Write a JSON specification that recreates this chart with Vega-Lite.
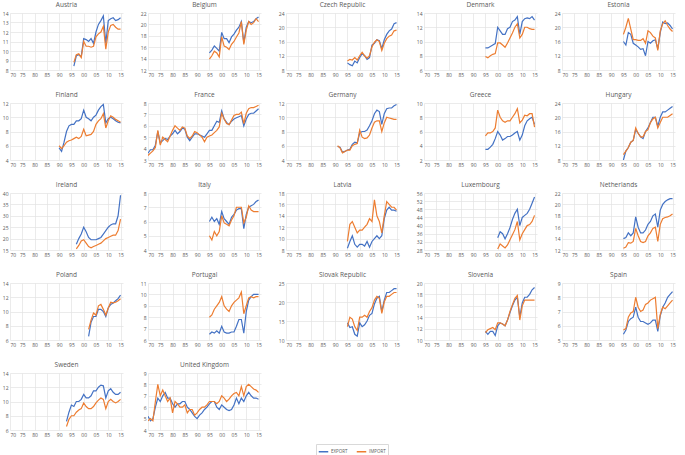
{
"$schema": "https://vega.github.io/schema/vega-lite/v6.json",
"padding": {"left": 2, "top": 1, "right": 2, "bottom": 2},
"datasets": {"d": [
{"c":"Austria","t":1996,"EXPORT":8.4,"IMPORT":8.8},{"c":"Austria","t":1997,"EXPORT":9.5,"IMPORT":9.6},{"c":"Austria","t":1998,"EXPORT":9.6,"IMPORT":9.7},{"c":"Austria","t":1999,"EXPORT":9.4,"IMPORT":9.3},{"c":"Austria","t":2000,"EXPORT":11.3,"IMPORT":11.0},{"c":"Austria","t":2001,"EXPORT":11.2,"IMPORT":10.5},{"c":"Austria","t":2002,"EXPORT":11.0,"IMPORT":10.5},{"c":"Austria","t":2003,"EXPORT":11.3,"IMPORT":10.4},{"c":"Austria","t":2004,"EXPORT":10.8,"IMPORT":10.5},{"c":"Austria","t":2005,"EXPORT":12.0,"IMPORT":11.5},{"c":"Austria","t":2006,"EXPORT":12.8,"IMPORT":11.8},{"c":"Austria","t":2007,"EXPORT":13.2,"IMPORT":12.0},{"c":"Austria","t":2008,"EXPORT":13.7,"IMPORT":12.6},{"c":"Austria","t":2009,"EXPORT":10.8,"IMPORT":10.2},{"c":"Austria","t":2010,"EXPORT":13.2,"IMPORT":12.0},{"c":"Austria","t":2011,"EXPORT":13.4,"IMPORT":12.7},{"c":"Austria","t":2012,"EXPORT":13.5,"IMPORT":12.8},{"c":"Austria","t":2013,"EXPORT":13.2,"IMPORT":12.5},{"c":"Austria","t":2014,"EXPORT":13.3,"IMPORT":12.3},{"c":"Austria","t":2015,"EXPORT":13.5,"IMPORT":12.3},
{"c":"Belgium","t":1995,"EXPORT":15.0,"IMPORT":13.9},{"c":"Belgium","t":1996,"EXPORT":15.5,"IMPORT":14.5},{"c":"Belgium","t":1997,"EXPORT":16.2,"IMPORT":15.3},{"c":"Belgium","t":1998,"EXPORT":15.8,"IMPORT":15.0},{"c":"Belgium","t":1999,"EXPORT":15.3,"IMPORT":14.3},{"c":"Belgium","t":2000,"EXPORT":18.6,"IMPORT":17.8},{"c":"Belgium","t":2001,"EXPORT":17.5,"IMPORT":16.2},{"c":"Belgium","t":2002,"EXPORT":17.5,"IMPORT":16.0},{"c":"Belgium","t":2003,"EXPORT":16.8,"IMPORT":15.6},{"c":"Belgium","t":2004,"EXPORT":17.8,"IMPORT":16.5},{"c":"Belgium","t":2005,"EXPORT":18.3,"IMPORT":17.0},{"c":"Belgium","t":2006,"EXPORT":19.0,"IMPORT":17.8},{"c":"Belgium","t":2007,"EXPORT":19.5,"IMPORT":18.5},{"c":"Belgium","t":2008,"EXPORT":20.5,"IMPORT":20.5},{"c":"Belgium","t":2009,"EXPORT":16.8,"IMPORT":16.5},{"c":"Belgium","t":2010,"EXPORT":19.5,"IMPORT":19.0},{"c":"Belgium","t":2011,"EXPORT":20.5,"IMPORT":20.5},{"c":"Belgium","t":2012,"EXPORT":20.3,"IMPORT":20.0},{"c":"Belgium","t":2013,"EXPORT":20.5,"IMPORT":20.3},{"c":"Belgium","t":2014,"EXPORT":21.0,"IMPORT":21.0},{"c":"Belgium","t":2015,"EXPORT":21.3,"IMPORT":20.5},
{"c":"Czech Republic","t":1995,"EXPORT":10.0,"IMPORT":10.5},{"c":"Czech Republic","t":1996,"EXPORT":9.5,"IMPORT":11.0},{"c":"Czech Republic","t":1997,"EXPORT":9.2,"IMPORT":10.8},{"c":"Czech Republic","t":1998,"EXPORT":10.5,"IMPORT":11.5},{"c":"Czech Republic","t":1999,"EXPORT":10.0,"IMPORT":10.8},{"c":"Czech Republic","t":2000,"EXPORT":11.5,"IMPORT":12.0},{"c":"Czech Republic","t":2001,"EXPORT":12.6,"IMPORT":13.0},{"c":"Czech Republic","t":2002,"EXPORT":12.0,"IMPORT":12.0},{"c":"Czech Republic","t":2003,"EXPORT":11.0,"IMPORT":11.3},{"c":"Czech Republic","t":2004,"EXPORT":11.5,"IMPORT":12.0},{"c":"Czech Republic","t":2005,"EXPORT":15.0,"IMPORT":14.5},{"c":"Czech Republic","t":2006,"EXPORT":15.5,"IMPORT":15.8},{"c":"Czech Republic","t":2007,"EXPORT":16.5,"IMPORT":16.5},{"c":"Czech Republic","t":2008,"EXPORT":16.2,"IMPORT":16.0},{"c":"Czech Republic","t":2009,"EXPORT":14.0,"IMPORT":13.5},{"c":"Czech Republic","t":2010,"EXPORT":16.5,"IMPORT":15.5},{"c":"Czech Republic","t":2011,"EXPORT":18.0,"IMPORT":16.8},{"c":"Czech Republic","t":2012,"EXPORT":19.0,"IMPORT":17.5},{"c":"Czech Republic","t":2013,"EXPORT":19.5,"IMPORT":17.8},{"c":"Czech Republic","t":2014,"EXPORT":21.0,"IMPORT":19.0},{"c":"Czech Republic","t":2015,"EXPORT":21.3,"IMPORT":19.2},
{"c":"Denmark","t":1995,"EXPORT":9.1,"IMPORT":7.9},{"c":"Denmark","t":1996,"EXPORT":9.1,"IMPORT":7.7},{"c":"Denmark","t":1997,"EXPORT":9.3,"IMPORT":8.0},{"c":"Denmark","t":1998,"EXPORT":9.5,"IMPORT":8.2},{"c":"Denmark","t":1999,"EXPORT":9.7,"IMPORT":8.3},{"c":"Denmark","t":2000,"EXPORT":12.0,"IMPORT":9.8},{"c":"Denmark","t":2001,"EXPORT":11.5,"IMPORT":9.8},{"c":"Denmark","t":2002,"EXPORT":11.0,"IMPORT":9.5},{"c":"Denmark","t":2003,"EXPORT":11.0,"IMPORT":9.2},{"c":"Denmark","t":2004,"EXPORT":11.8,"IMPORT":9.8},{"c":"Denmark","t":2005,"EXPORT":12.0,"IMPORT":10.5},{"c":"Denmark","t":2006,"EXPORT":12.8,"IMPORT":11.2},{"c":"Denmark","t":2007,"EXPORT":13.0,"IMPORT":12.0},{"c":"Denmark","t":2008,"EXPORT":13.5,"IMPORT":12.5},{"c":"Denmark","t":2009,"EXPORT":11.0,"IMPORT":10.5},{"c":"Denmark","t":2010,"EXPORT":12.8,"IMPORT":11.0},{"c":"Denmark","t":2011,"EXPORT":13.2,"IMPORT":12.0},{"c":"Denmark","t":2012,"EXPORT":13.3,"IMPORT":12.0},{"c":"Denmark","t":2013,"EXPORT":13.2,"IMPORT":11.8},{"c":"Denmark","t":2014,"EXPORT":13.5,"IMPORT":11.7},{"c":"Denmark","t":2015,"EXPORT":13.0,"IMPORT":11.7},
{"c":"Estonia","t":1995,"EXPORT":16.0,"IMPORT":18.0},{"c":"Estonia","t":1996,"EXPORT":15.0,"IMPORT":20.0},{"c":"Estonia","t":1997,"EXPORT":18.5,"IMPORT":22.5},{"c":"Estonia","t":1998,"EXPORT":18.0,"IMPORT":19.5},{"c":"Estonia","t":1999,"EXPORT":15.5,"IMPORT":16.5},{"c":"Estonia","t":2000,"EXPORT":15.0,"IMPORT":16.5},{"c":"Estonia","t":2001,"EXPORT":14.5,"IMPORT":16.3},{"c":"Estonia","t":2002,"EXPORT":13.8,"IMPORT":16.3},{"c":"Estonia","t":2003,"EXPORT":14.0,"IMPORT":16.8},{"c":"Estonia","t":2004,"EXPORT":12.0,"IMPORT":15.5},{"c":"Estonia","t":2005,"EXPORT":16.0,"IMPORT":19.0},{"c":"Estonia","t":2006,"EXPORT":15.5,"IMPORT":18.5},{"c":"Estonia","t":2007,"EXPORT":16.2,"IMPORT":17.5},{"c":"Estonia","t":2008,"EXPORT":16.5,"IMPORT":17.0},{"c":"Estonia","t":2009,"EXPORT":14.0,"IMPORT":13.5},{"c":"Estonia","t":2010,"EXPORT":18.5,"IMPORT":19.0},{"c":"Estonia","t":2011,"EXPORT":21.5,"IMPORT":21.0},{"c":"Estonia","t":2012,"EXPORT":21.0,"IMPORT":21.8},{"c":"Estonia","t":2013,"EXPORT":21.2,"IMPORT":20.5},{"c":"Estonia","t":2014,"EXPORT":20.5,"IMPORT":19.5},{"c":"Estonia","t":2015,"EXPORT":19.5,"IMPORT":18.8},
{"c":"Finland","t":1990,"EXPORT":5.7,"IMPORT":6.0},{"c":"Finland","t":1991,"EXPORT":5.2,"IMPORT":5.6},{"c":"Finland","t":1992,"EXPORT":6.5,"IMPORT":6.0},{"c":"Finland","t":1993,"EXPORT":8.0,"IMPORT":6.5},{"c":"Finland","t":1994,"EXPORT":8.8,"IMPORT":6.7},{"c":"Finland","t":1995,"EXPORT":9.0,"IMPORT":6.8},{"c":"Finland","t":1996,"EXPORT":9.0,"IMPORT":7.0},{"c":"Finland","t":1997,"EXPORT":9.5,"IMPORT":7.2},{"c":"Finland","t":1998,"EXPORT":9.5,"IMPORT":7.0},{"c":"Finland","t":1999,"EXPORT":9.8,"IMPORT":7.3},{"c":"Finland","t":2000,"EXPORT":11.0,"IMPORT":8.3},{"c":"Finland","t":2001,"EXPORT":10.0,"IMPORT":7.4},{"c":"Finland","t":2002,"EXPORT":9.8,"IMPORT":7.5},{"c":"Finland","t":2003,"EXPORT":9.5,"IMPORT":7.6},{"c":"Finland","t":2004,"EXPORT":10.0,"IMPORT":8.0},{"c":"Finland","t":2005,"EXPORT":10.3,"IMPORT":9.0},{"c":"Finland","t":2006,"EXPORT":11.0,"IMPORT":9.5},{"c":"Finland","t":2007,"EXPORT":11.5,"IMPORT":9.8},{"c":"Finland","t":2008,"EXPORT":11.8,"IMPORT":10.5},{"c":"Finland","t":2009,"EXPORT":9.2,"IMPORT":8.5},{"c":"Finland","t":2010,"EXPORT":9.8,"IMPORT":9.5},{"c":"Finland","t":2011,"EXPORT":10.0,"IMPORT":10.2},{"c":"Finland","t":2012,"EXPORT":9.8,"IMPORT":10.0},{"c":"Finland","t":2013,"EXPORT":9.5,"IMPORT":9.7},{"c":"Finland","t":2014,"EXPORT":9.3,"IMPORT":9.5},{"c":"Finland","t":2015,"EXPORT":9.2,"IMPORT":9.3},
{"c":"France","t":1970,"EXPORT":3.6,"IMPORT":3.4},{"c":"France","t":1971,"EXPORT":3.9,"IMPORT":3.6},{"c":"France","t":1972,"EXPORT":3.9,"IMPORT":3.8},{"c":"France","t":1973,"EXPORT":4.3,"IMPORT":4.1},{"c":"France","t":1974,"EXPORT":5.5,"IMPORT":5.6},{"c":"France","t":1975,"EXPORT":4.5,"IMPORT":4.3},{"c":"France","t":1976,"EXPORT":4.7,"IMPORT":5.0},{"c":"France","t":1977,"EXPORT":4.9,"IMPORT":4.8},{"c":"France","t":1978,"EXPORT":4.8,"IMPORT":4.6},{"c":"France","t":1979,"EXPORT":5.1,"IMPORT":5.1},{"c":"France","t":1980,"EXPORT":5.3,"IMPORT":5.6},{"c":"France","t":1981,"EXPORT":5.6,"IMPORT":6.0},{"c":"France","t":1982,"EXPORT":5.3,"IMPORT":5.8},{"c":"France","t":1983,"EXPORT":5.5,"IMPORT":5.6},{"c":"France","t":1984,"EXPORT":5.8,"IMPORT":5.9},{"c":"France","t":1985,"EXPORT":5.7,"IMPORT":5.8},{"c":"France","t":1986,"EXPORT":5.0,"IMPORT":5.1},{"c":"France","t":1987,"EXPORT":4.7,"IMPORT":4.9},{"c":"France","t":1988,"EXPORT":5.0,"IMPORT":5.1},{"c":"France","t":1989,"EXPORT":5.3,"IMPORT":5.5},{"c":"France","t":1990,"EXPORT":5.3,"IMPORT":5.4},{"c":"France","t":1991,"EXPORT":5.2,"IMPORT":5.2},{"c":"France","t":1992,"EXPORT":5.1,"IMPORT":5.0},{"c":"France","t":1993,"EXPORT":5.0,"IMPORT":4.6},{"c":"France","t":1994,"EXPORT":5.3,"IMPORT":5.0},{"c":"France","t":1995,"EXPORT":5.6,"IMPORT":5.1},{"c":"France","t":1996,"EXPORT":5.6,"IMPORT":5.2},{"c":"France","t":1997,"EXPORT":6.0,"IMPORT":5.4},{"c":"France","t":1998,"EXPORT":6.4,"IMPORT":5.6},{"c":"France","t":1999,"EXPORT":6.3,"IMPORT":5.9},{"c":"France","t":2000,"EXPORT":7.3,"IMPORT":7.1},{"c":"France","t":2001,"EXPORT":6.6,"IMPORT":6.6},{"c":"France","t":2002,"EXPORT":6.3,"IMPORT":6.2},{"c":"France","t":2003,"EXPORT":6.1,"IMPORT":6.1},{"c":"France","t":2004,"EXPORT":6.4,"IMPORT":6.5},{"c":"France","t":2005,"EXPORT":6.6,"IMPORT":6.9},{"c":"France","t":2006,"EXPORT":6.7,"IMPORT":7.0},{"c":"France","t":2007,"EXPORT":6.8,"IMPORT":7.0},{"c":"France","t":2008,"EXPORT":6.9,"IMPORT":7.2},{"c":"France","t":2009,"EXPORT":6.0,"IMPORT":6.2},{"c":"France","t":2010,"EXPORT":6.6,"IMPORT":7.1},{"c":"France","t":2011,"EXPORT":7.0,"IMPORT":7.5},{"c":"France","t":2012,"EXPORT":7.1,"IMPORT":7.6},{"c":"France","t":2013,"EXPORT":7.1,"IMPORT":7.6},{"c":"France","t":2014,"EXPORT":7.3,"IMPORT":7.7},{"c":"France","t":2015,"EXPORT":7.5,"IMPORT":7.8},
{"c":"Germany","t":1991,"EXPORT":5.9,"IMPORT":6.0},{"c":"Germany","t":1992,"EXPORT":5.8,"IMPORT":5.7},{"c":"Germany","t":1993,"EXPORT":5.1,"IMPORT":5.0},{"c":"Germany","t":1994,"EXPORT":5.2,"IMPORT":5.2},{"c":"Germany","t":1995,"EXPORT":5.4,"IMPORT":5.4},{"c":"Germany","t":1996,"EXPORT":5.5,"IMPORT":5.4},{"c":"Germany","t":1997,"EXPORT":6.2,"IMPORT":6.0},{"c":"Germany","t":1998,"EXPORT":6.5,"IMPORT":6.2},{"c":"Germany","t":1999,"EXPORT":6.4,"IMPORT":6.3},{"c":"Germany","t":2000,"EXPORT":7.8,"IMPORT":8.2},{"c":"Germany","t":2001,"EXPORT":8.0,"IMPORT":7.2},{"c":"Germany","t":2002,"EXPORT":8.0,"IMPORT":7.0},{"c":"Germany","t":2003,"EXPORT":8.2,"IMPORT":7.1},{"c":"Germany","t":2004,"EXPORT":8.8,"IMPORT":7.5},{"c":"Germany","t":2005,"EXPORT":9.5,"IMPORT":8.5},{"c":"Germany","t":2006,"EXPORT":10.5,"IMPORT":9.3},{"c":"Germany","t":2007,"EXPORT":11.0,"IMPORT":9.5},{"c":"Germany","t":2008,"EXPORT":10.8,"IMPORT":9.5},{"c":"Germany","t":2009,"EXPORT":9.0,"IMPORT":8.0},{"c":"Germany","t":2010,"EXPORT":10.5,"IMPORT":9.2},{"c":"Germany","t":2011,"EXPORT":11.2,"IMPORT":10.0},{"c":"Germany","t":2012,"EXPORT":11.3,"IMPORT":9.9},{"c":"Germany","t":2013,"EXPORT":11.3,"IMPORT":9.8},{"c":"Germany","t":2014,"EXPORT":11.6,"IMPORT":9.7},{"c":"Germany","t":2015,"EXPORT":11.8,"IMPORT":9.7},
{"c":"Greece","t":1995,"EXPORT":3.5,"IMPORT":5.4},{"c":"Greece","t":1996,"EXPORT":3.5,"IMPORT":5.8},{"c":"Greece","t":1997,"EXPORT":3.8,"IMPORT":5.8},{"c":"Greece","t":1998,"EXPORT":4.2,"IMPORT":6.0},{"c":"Greece","t":1999,"EXPORT":5.0,"IMPORT":6.5},{"c":"Greece","t":2000,"EXPORT":6.0,"IMPORT":9.0},{"c":"Greece","t":2001,"EXPORT":5.5,"IMPORT":8.0},{"c":"Greece","t":2002,"EXPORT":4.8,"IMPORT":7.5},{"c":"Greece","t":2003,"EXPORT":5.0,"IMPORT":7.3},{"c":"Greece","t":2004,"EXPORT":5.3,"IMPORT":7.5},{"c":"Greece","t":2005,"EXPORT":5.3,"IMPORT":7.5},{"c":"Greece","t":2006,"EXPORT":5.5,"IMPORT":8.0},{"c":"Greece","t":2007,"EXPORT":5.8,"IMPORT":8.5},{"c":"Greece","t":2008,"EXPORT":6.0,"IMPORT":9.2},{"c":"Greece","t":2009,"EXPORT":4.8,"IMPORT":7.2},{"c":"Greece","t":2010,"EXPORT":5.5,"IMPORT":7.6},{"c":"Greece","t":2011,"EXPORT":6.8,"IMPORT":8.3},{"c":"Greece","t":2012,"EXPORT":7.5,"IMPORT":8.2},{"c":"Greece","t":2013,"EXPORT":7.8,"IMPORT":8.5},{"c":"Greece","t":2014,"EXPORT":8.0,"IMPORT":8.5},{"c":"Greece","t":2015,"EXPORT":7.0,"IMPORT":6.6},
{"c":"Hungary","t":1995,"EXPORT":8.0,"IMPORT":9.5},{"c":"Hungary","t":1996,"EXPORT":10.5,"IMPORT":10.5},{"c":"Hungary","t":1997,"EXPORT":11.5,"IMPORT":11.5},{"c":"Hungary","t":1998,"EXPORT":13.0,"IMPORT":13.0},{"c":"Hungary","t":1999,"EXPORT":13.5,"IMPORT":13.5},{"c":"Hungary","t":2000,"EXPORT":16.5,"IMPORT":17.0},{"c":"Hungary","t":2001,"EXPORT":15.5,"IMPORT":15.5},{"c":"Hungary","t":2002,"EXPORT":14.5,"IMPORT":14.5},{"c":"Hungary","t":2003,"EXPORT":14.0,"IMPORT":14.5},{"c":"Hungary","t":2004,"EXPORT":16.0,"IMPORT":16.0},{"c":"Hungary","t":2005,"EXPORT":17.0,"IMPORT":16.5},{"c":"Hungary","t":2006,"EXPORT":18.5,"IMPORT":18.5},{"c":"Hungary","t":2007,"EXPORT":20.0,"IMPORT":19.5},{"c":"Hungary","t":2008,"EXPORT":20.0,"IMPORT":20.0},{"c":"Hungary","t":2009,"EXPORT":17.5,"IMPORT":17.0},{"c":"Hungary","t":2010,"EXPORT":20.0,"IMPORT":18.5},{"c":"Hungary","t":2011,"EXPORT":21.5,"IMPORT":20.0},{"c":"Hungary","t":2012,"EXPORT":21.5,"IMPORT":20.0},{"c":"Hungary","t":2013,"EXPORT":22.0,"IMPORT":20.0},{"c":"Hungary","t":2014,"EXPORT":22.5,"IMPORT":20.5},{"c":"Hungary","t":2015,"EXPORT":23.0,"IMPORT":21.0},
{"c":"Ireland","t":1997,"EXPORT":17.5,"IMPORT":15.5},{"c":"Ireland","t":1998,"EXPORT":20.0,"IMPORT":17.0},{"c":"Ireland","t":1999,"EXPORT":22.0,"IMPORT":19.0},{"c":"Ireland","t":2000,"EXPORT":25.0,"IMPORT":19.5},{"c":"Ireland","t":2001,"EXPORT":23.0,"IMPORT":18.0},{"c":"Ireland","t":2002,"EXPORT":20.5,"IMPORT":16.5},{"c":"Ireland","t":2003,"EXPORT":19.5,"IMPORT":16.0},{"c":"Ireland","t":2004,"EXPORT":19.5,"IMPORT":16.5},{"c":"Ireland","t":2005,"EXPORT":19.5,"IMPORT":17.0},{"c":"Ireland","t":2006,"EXPORT":20.0,"IMPORT":17.5},{"c":"Ireland","t":2007,"EXPORT":20.5,"IMPORT":18.0},{"c":"Ireland","t":2008,"EXPORT":22.0,"IMPORT":19.0},{"c":"Ireland","t":2009,"EXPORT":23.5,"IMPORT":20.0},{"c":"Ireland","t":2010,"EXPORT":25.0,"IMPORT":20.5},{"c":"Ireland","t":2011,"EXPORT":26.0,"IMPORT":21.0},{"c":"Ireland","t":2012,"EXPORT":26.5,"IMPORT":21.5},{"c":"Ireland","t":2013,"EXPORT":26.5,"IMPORT":21.5},{"c":"Ireland","t":2014,"EXPORT":30.0,"IMPORT":23.5},{"c":"Ireland","t":2015,"EXPORT":39.0,"IMPORT":28.5},
{"c":"Italy","t":1995,"EXPORT":6.0,"IMPORT":5.0},{"c":"Italy","t":1996,"EXPORT":6.3,"IMPORT":4.7},{"c":"Italy","t":1997,"EXPORT":6.0,"IMPORT":5.3},{"c":"Italy","t":1998,"EXPORT":6.2,"IMPORT":5.0},{"c":"Italy","t":1999,"EXPORT":5.8,"IMPORT":5.3},{"c":"Italy","t":2000,"EXPORT":6.7,"IMPORT":6.4},{"c":"Italy","t":2001,"EXPORT":6.2,"IMPORT":5.9},{"c":"Italy","t":2002,"EXPORT":6.0,"IMPORT":5.8},{"c":"Italy","t":2003,"EXPORT":5.8,"IMPORT":5.7},{"c":"Italy","t":2004,"EXPORT":6.3,"IMPORT":6.1},{"c":"Italy","t":2005,"EXPORT":6.5,"IMPORT":6.4},{"c":"Italy","t":2006,"EXPORT":6.8,"IMPORT":7.0},{"c":"Italy","t":2007,"EXPORT":6.9,"IMPORT":7.0},{"c":"Italy","t":2008,"EXPORT":6.9,"IMPORT":7.0},{"c":"Italy","t":2009,"EXPORT":5.5,"IMPORT":5.9},{"c":"Italy","t":2010,"EXPORT":6.5,"IMPORT":6.3},{"c":"Italy","t":2011,"EXPORT":7.0,"IMPORT":7.1},{"c":"Italy","t":2012,"EXPORT":7.1,"IMPORT":6.8},{"c":"Italy","t":2013,"EXPORT":7.2,"IMPORT":6.7},{"c":"Italy","t":2014,"EXPORT":7.4,"IMPORT":6.7},{"c":"Italy","t":2015,"EXPORT":7.5,"IMPORT":6.7},
{"c":"Latvia","t":1995,"EXPORT":8.3,"IMPORT":9.5},{"c":"Latvia","t":1996,"EXPORT":9.5,"IMPORT":12.5},{"c":"Latvia","t":1997,"EXPORT":10.5,"IMPORT":13.0},{"c":"Latvia","t":1998,"EXPORT":9.0,"IMPORT":12.0},{"c":"Latvia","t":1999,"EXPORT":8.5,"IMPORT":11.0},{"c":"Latvia","t":2000,"EXPORT":9.0,"IMPORT":11.5},{"c":"Latvia","t":2001,"EXPORT":9.0,"IMPORT":11.5},{"c":"Latvia","t":2002,"EXPORT":8.7,"IMPORT":12.0},{"c":"Latvia","t":2003,"EXPORT":9.5,"IMPORT":12.5},{"c":"Latvia","t":2004,"EXPORT":8.5,"IMPORT":13.5},{"c":"Latvia","t":2005,"EXPORT":9.5,"IMPORT":13.0},{"c":"Latvia","t":2006,"EXPORT":10.0,"IMPORT":16.8},{"c":"Latvia","t":2007,"EXPORT":10.5,"IMPORT":14.0},{"c":"Latvia","t":2008,"EXPORT":10.0,"IMPORT":13.0},{"c":"Latvia","t":2009,"EXPORT":10.5,"IMPORT":11.0},{"c":"Latvia","t":2010,"EXPORT":13.5,"IMPORT":14.0},{"c":"Latvia","t":2011,"EXPORT":15.0,"IMPORT":16.5},{"c":"Latvia","t":2012,"EXPORT":15.5,"IMPORT":16.0},{"c":"Latvia","t":2013,"EXPORT":15.0,"IMPORT":15.5},{"c":"Latvia","t":2014,"EXPORT":15.0,"IMPORT":15.5},{"c":"Latvia","t":2015,"EXPORT":14.8,"IMPORT":15.0},
{"c":"Luxembourg","t":2000,"EXPORT":34,"IMPORT":28.5},{"c":"Luxembourg","t":2001,"EXPORT":37,"IMPORT":31},{"c":"Luxembourg","t":2002,"EXPORT":36,"IMPORT":30},{"c":"Luxembourg","t":2003,"EXPORT":33.5,"IMPORT":29},{"c":"Luxembourg","t":2004,"EXPORT":36,"IMPORT":30.5},{"c":"Luxembourg","t":2005,"EXPORT":39,"IMPORT":33},{"c":"Luxembourg","t":2006,"EXPORT":43,"IMPORT":35.5},{"c":"Luxembourg","t":2007,"EXPORT":46,"IMPORT":38},{"c":"Luxembourg","t":2008,"EXPORT":48,"IMPORT":42},{"c":"Luxembourg","t":2009,"EXPORT":40,"IMPORT":33},{"c":"Luxembourg","t":2010,"EXPORT":44,"IMPORT":36},{"c":"Luxembourg","t":2011,"EXPORT":45,"IMPORT":38},{"c":"Luxembourg","t":2012,"EXPORT":46,"IMPORT":40},{"c":"Luxembourg","t":2013,"EXPORT":48,"IMPORT":40.5},{"c":"Luxembourg","t":2014,"EXPORT":51,"IMPORT":42},{"c":"Luxembourg","t":2015,"EXPORT":54,"IMPORT":45},
{"c":"Netherlands","t":1995,"EXPORT":14.0,"IMPORT":12.3},{"c":"Netherlands","t":1996,"EXPORT":14.2,"IMPORT":12.5},{"c":"Netherlands","t":1997,"EXPORT":15.0,"IMPORT":13.3},{"c":"Netherlands","t":1998,"EXPORT":14.5,"IMPORT":13.2},{"c":"Netherlands","t":1999,"EXPORT":15.0,"IMPORT":13.5},{"c":"Netherlands","t":2000,"EXPORT":17.8,"IMPORT":15.8},{"c":"Netherlands","t":2001,"EXPORT":16.0,"IMPORT":14.5},{"c":"Netherlands","t":2002,"EXPORT":15.0,"IMPORT":13.5},{"c":"Netherlands","t":2003,"EXPORT":15.0,"IMPORT":13.3},{"c":"Netherlands","t":2004,"EXPORT":15.5,"IMPORT":13.5},{"c":"Netherlands","t":2005,"EXPORT":16.5,"IMPORT":14.5},{"c":"Netherlands","t":2006,"EXPORT":17.0,"IMPORT":15.0},{"c":"Netherlands","t":2007,"EXPORT":18.0,"IMPORT":15.8},{"c":"Netherlands","t":2008,"EXPORT":18.3,"IMPORT":16.0},{"c":"Netherlands","t":2009,"EXPORT":16.0,"IMPORT":13.5},{"c":"Netherlands","t":2010,"EXPORT":19.0,"IMPORT":16.5},{"c":"Netherlands","t":2011,"EXPORT":20.0,"IMPORT":17.5},{"c":"Netherlands","t":2012,"EXPORT":20.5,"IMPORT":17.7},{"c":"Netherlands","t":2013,"EXPORT":20.8,"IMPORT":17.8},{"c":"Netherlands","t":2014,"EXPORT":21.0,"IMPORT":18.0},{"c":"Netherlands","t":2015,"EXPORT":21.0,"IMPORT":18.3},
{"c":"Poland","t":2002,"EXPORT":6.5,"IMPORT":7.5},{"c":"Poland","t":2003,"EXPORT":8.5,"IMPORT":8.8},{"c":"Poland","t":2004,"EXPORT":9.3,"IMPORT":9.8},{"c":"Poland","t":2005,"EXPORT":9.3,"IMPORT":9.5},{"c":"Poland","t":2006,"EXPORT":10.3,"IMPORT":10.8},{"c":"Poland","t":2007,"EXPORT":10.3,"IMPORT":11.0},{"c":"Poland","t":2008,"EXPORT":10.0,"IMPORT":10.3},{"c":"Poland","t":2009,"EXPORT":9.3,"IMPORT":9.5},{"c":"Poland","t":2010,"EXPORT":10.5,"IMPORT":10.5},{"c":"Poland","t":2011,"EXPORT":11.0,"IMPORT":11.3},{"c":"Poland","t":2012,"EXPORT":11.2,"IMPORT":11.2},{"c":"Poland","t":2013,"EXPORT":11.5,"IMPORT":11.3},{"c":"Poland","t":2014,"EXPORT":11.8,"IMPORT":11.5},{"c":"Poland","t":2015,"EXPORT":12.3,"IMPORT":11.8},
{"c":"Portugal","t":1995,"EXPORT":6.5,"IMPORT":8.0},{"c":"Portugal","t":1996,"EXPORT":6.7,"IMPORT":8.2},{"c":"Portugal","t":1997,"EXPORT":6.6,"IMPORT":8.7},{"c":"Portugal","t":1998,"EXPORT":6.8,"IMPORT":9.0},{"c":"Portugal","t":1999,"EXPORT":6.6,"IMPORT":9.3},{"c":"Portugal","t":2000,"EXPORT":7.2,"IMPORT":9.8},{"c":"Portugal","t":2001,"EXPORT":6.7,"IMPORT":9.0},{"c":"Portugal","t":2002,"EXPORT":6.6,"IMPORT":8.7},{"c":"Portugal","t":2003,"EXPORT":6.6,"IMPORT":8.5},{"c":"Portugal","t":2004,"EXPORT":6.7,"IMPORT":9.0},{"c":"Portugal","t":2005,"EXPORT":6.7,"IMPORT":9.3},{"c":"Portugal","t":2006,"EXPORT":7.2,"IMPORT":9.5},{"c":"Portugal","t":2007,"EXPORT":7.8,"IMPORT":9.7},{"c":"Portugal","t":2008,"EXPORT":7.8,"IMPORT":10.2},{"c":"Portugal","t":2009,"EXPORT":6.6,"IMPORT":8.3},{"c":"Portugal","t":2010,"EXPORT":8.5,"IMPORT":9.0},{"c":"Portugal","t":2011,"EXPORT":9.5,"IMPORT":9.7},{"c":"Portugal","t":2012,"EXPORT":9.8,"IMPORT":9.8},{"c":"Portugal","t":2013,"EXPORT":10.0,"IMPORT":9.7},{"c":"Portugal","t":2014,"EXPORT":10.0,"IMPORT":9.8},{"c":"Portugal","t":2015,"EXPORT":10.0,"IMPORT":9.8},
{"c":"Slovak Republic","t":1995,"EXPORT":14.5,"IMPORT":13.5},{"c":"Slovak Republic","t":1996,"EXPORT":13.3,"IMPORT":16.0},{"c":"Slovak Republic","t":1997,"EXPORT":13.5,"IMPORT":15.5},{"c":"Slovak Republic","t":1998,"EXPORT":11.5,"IMPORT":13.5},{"c":"Slovak Republic","t":1999,"EXPORT":11.0,"IMPORT":12.5},{"c":"Slovak Republic","t":2000,"EXPORT":14.5,"IMPORT":16.0},{"c":"Slovak Republic","t":2001,"EXPORT":13.5,"IMPORT":16.0},{"c":"Slovak Republic","t":2002,"EXPORT":14.0,"IMPORT":16.5},{"c":"Slovak Republic","t":2003,"EXPORT":15.0,"IMPORT":16.0},{"c":"Slovak Republic","t":2004,"EXPORT":16.5,"IMPORT":17.5},{"c":"Slovak Republic","t":2005,"EXPORT":17.0,"IMPORT":18.5},{"c":"Slovak Republic","t":2006,"EXPORT":19.5,"IMPORT":20.5},{"c":"Slovak Republic","t":2007,"EXPORT":21.0,"IMPORT":21.5},{"c":"Slovak Republic","t":2008,"EXPORT":21.5,"IMPORT":21.0},{"c":"Slovak Republic","t":2009,"EXPORT":17.5,"IMPORT":17.0},{"c":"Slovak Republic","t":2010,"EXPORT":20.5,"IMPORT":20.0},{"c":"Slovak Republic","t":2011,"EXPORT":22.5,"IMPORT":21.5},{"c":"Slovak Republic","t":2012,"EXPORT":22.5,"IMPORT":21.5},{"c":"Slovak Republic","t":2013,"EXPORT":23.0,"IMPORT":22.0},{"c":"Slovak Republic","t":2014,"EXPORT":23.5,"IMPORT":22.5},{"c":"Slovak Republic","t":2015,"EXPORT":23.5,"IMPORT":22.5},
{"c":"Slovenia","t":1995,"EXPORT":11.5,"IMPORT":11.3},{"c":"Slovenia","t":1996,"EXPORT":11.0,"IMPORT":11.8},{"c":"Slovenia","t":1997,"EXPORT":11.5,"IMPORT":12.0},{"c":"Slovenia","t":1998,"EXPORT":11.5,"IMPORT":12.2},{"c":"Slovenia","t":1999,"EXPORT":10.8,"IMPORT":11.8},{"c":"Slovenia","t":2000,"EXPORT":12.5,"IMPORT":13.0},{"c":"Slovenia","t":2001,"EXPORT":13.0,"IMPORT":13.0},{"c":"Slovenia","t":2002,"EXPORT":12.8,"IMPORT":12.8},{"c":"Slovenia","t":2003,"EXPORT":12.5,"IMPORT":12.5},{"c":"Slovenia","t":2004,"EXPORT":13.5,"IMPORT":13.5},{"c":"Slovenia","t":2005,"EXPORT":14.8,"IMPORT":15.0},{"c":"Slovenia","t":2006,"EXPORT":16.0,"IMPORT":16.2},{"c":"Slovenia","t":2007,"EXPORT":17.0,"IMPORT":17.3},{"c":"Slovenia","t":2008,"EXPORT":17.5,"IMPORT":17.8},{"c":"Slovenia","t":2009,"EXPORT":14.0,"IMPORT":13.5},{"c":"Slovenia","t":2010,"EXPORT":16.5,"IMPORT":16.0},{"c":"Slovenia","t":2011,"EXPORT":17.5,"IMPORT":17.0},{"c":"Slovenia","t":2012,"EXPORT":17.5,"IMPORT":17.0},{"c":"Slovenia","t":2013,"EXPORT":18.0,"IMPORT":17.0},{"c":"Slovenia","t":2014,"EXPORT":18.8,"IMPORT":17.0},{"c":"Slovenia","t":2015,"EXPORT":19.2,"IMPORT":17.0},
{"c":"Spain","t":1995,"EXPORT":5.4,"IMPORT":5.7},{"c":"Spain","t":1996,"EXPORT":5.7,"IMPORT":5.8},{"c":"Spain","t":1997,"EXPORT":6.3,"IMPORT":6.6},{"c":"Spain","t":1998,"EXPORT":6.5,"IMPORT":6.9},{"c":"Spain","t":1999,"EXPORT":6.6,"IMPORT":7.0},{"c":"Spain","t":2000,"EXPORT":7.3,"IMPORT":8.0},{"c":"Spain","t":2001,"EXPORT":6.6,"IMPORT":7.3},{"c":"Spain","t":2002,"EXPORT":6.3,"IMPORT":7.0},{"c":"Spain","t":2003,"EXPORT":6.3,"IMPORT":7.1},{"c":"Spain","t":2004,"EXPORT":6.2,"IMPORT":7.5},{"c":"Spain","t":2005,"EXPORT":6.1,"IMPORT":7.6},{"c":"Spain","t":2006,"EXPORT":6.2,"IMPORT":7.8},{"c":"Spain","t":2007,"EXPORT":6.4,"IMPORT":7.9},{"c":"Spain","t":2008,"EXPORT":6.4,"IMPORT":8.0},{"c":"Spain","t":2009,"EXPORT":5.6,"IMPORT":5.8},{"c":"Spain","t":2010,"EXPORT":6.7,"IMPORT":6.8},{"c":"Spain","t":2011,"EXPORT":7.3,"IMPORT":7.3},{"c":"Spain","t":2012,"EXPORT":7.6,"IMPORT":7.2},{"c":"Spain","t":2013,"EXPORT":8.0,"IMPORT":7.4},{"c":"Spain","t":2014,"EXPORT":8.2,"IMPORT":7.6},{"c":"Spain","t":2015,"EXPORT":8.4,"IMPORT":7.8},
{"c":"Sweden","t":1993,"EXPORT":7.2,"IMPORT":6.5},{"c":"Sweden","t":1994,"EXPORT":8.5,"IMPORT":7.5},{"c":"Sweden","t":1995,"EXPORT":9.5,"IMPORT":8.0},{"c":"Sweden","t":1996,"EXPORT":9.3,"IMPORT":8.0},{"c":"Sweden","t":1997,"EXPORT":10.0,"IMPORT":8.5},{"c":"Sweden","t":1998,"EXPORT":10.0,"IMPORT":8.8},{"c":"Sweden","t":1999,"EXPORT":10.3,"IMPORT":9.0},{"c":"Sweden","t":2000,"EXPORT":11.0,"IMPORT":9.8},{"c":"Sweden","t":2001,"EXPORT":10.5,"IMPORT":9.3},{"c":"Sweden","t":2002,"EXPORT":10.5,"IMPORT":9.0},{"c":"Sweden","t":2003,"EXPORT":10.8,"IMPORT":9.0},{"c":"Sweden","t":2004,"EXPORT":11.5,"IMPORT":9.3},{"c":"Sweden","t":2005,"EXPORT":11.5,"IMPORT":9.8},{"c":"Sweden","t":2006,"EXPORT":12.0,"IMPORT":10.2},{"c":"Sweden","t":2007,"EXPORT":12.3,"IMPORT":10.5},{"c":"Sweden","t":2008,"EXPORT":12.2,"IMPORT":10.3},{"c":"Sweden","t":2009,"EXPORT":10.5,"IMPORT":9.0},{"c":"Sweden","t":2010,"EXPORT":11.5,"IMPORT":10.0},{"c":"Sweden","t":2011,"EXPORT":11.8,"IMPORT":10.3},{"c":"Sweden","t":2012,"EXPORT":11.3,"IMPORT":10.0},{"c":"Sweden","t":2013,"EXPORT":11.0,"IMPORT":9.8},{"c":"Sweden","t":2014,"EXPORT":11.0,"IMPORT":10.0},{"c":"Sweden","t":2015,"EXPORT":11.3,"IMPORT":10.3},
{"c":"United Kingdom","t":1970,"EXPORT":5.2,"IMPORT":4.8},{"c":"United Kingdom","t":1971,"EXPORT":4.8,"IMPORT":5.0},{"c":"United Kingdom","t":1972,"EXPORT":5.0,"IMPORT":4.8},{"c":"United Kingdom","t":1973,"EXPORT":6.0,"IMPORT":6.5},{"c":"United Kingdom","t":1974,"EXPORT":6.8,"IMPORT":8.0},{"c":"United Kingdom","t":1975,"EXPORT":6.5,"IMPORT":7.0},{"c":"United Kingdom","t":1976,"EXPORT":7.0,"IMPORT":7.5},{"c":"United Kingdom","t":1977,"EXPORT":7.3,"IMPORT":7.0},{"c":"United Kingdom","t":1978,"EXPORT":6.8,"IMPORT":6.5},{"c":"United Kingdom","t":1979,"EXPORT":6.8,"IMPORT":6.8},{"c":"United Kingdom","t":1980,"EXPORT":6.3,"IMPORT":5.5},{"c":"United Kingdom","t":1981,"EXPORT":6.0,"IMPORT":6.5},{"c":"United Kingdom","t":1982,"EXPORT":6.3,"IMPORT":6.3},{"c":"United Kingdom","t":1983,"EXPORT":6.3,"IMPORT":6.0},{"c":"United Kingdom","t":1984,"EXPORT":6.5,"IMPORT":6.0},{"c":"United Kingdom","t":1985,"EXPORT":6.5,"IMPORT":6.2},{"c":"United Kingdom","t":1986,"EXPORT":6.0,"IMPORT":5.5},{"c":"United Kingdom","t":1987,"EXPORT":5.8,"IMPORT":5.8},{"c":"United Kingdom","t":1988,"EXPORT":5.5,"IMPORT":5.8},{"c":"United Kingdom","t":1989,"EXPORT":5.2,"IMPORT":5.3},{"c":"United Kingdom","t":1990,"EXPORT":5.0,"IMPORT":5.5},{"c":"United Kingdom","t":1991,"EXPORT":5.3,"IMPORT":5.8},{"c":"United Kingdom","t":1992,"EXPORT":5.5,"IMPORT":6.0},{"c":"United Kingdom","t":1993,"EXPORT":5.8,"IMPORT":6.0},{"c":"United Kingdom","t":1994,"EXPORT":6.0,"IMPORT":6.2},{"c":"United Kingdom","t":1995,"EXPORT":6.3,"IMPORT":6.5},{"c":"United Kingdom","t":1996,"EXPORT":6.5,"IMPORT":6.5},{"c":"United Kingdom","t":1997,"EXPORT":6.5,"IMPORT":6.5},{"c":"United Kingdom","t":1998,"EXPORT":6.0,"IMPORT":6.3},{"c":"United Kingdom","t":1999,"EXPORT":5.8,"IMPORT":6.5},{"c":"United Kingdom","t":2000,"EXPORT":6.2,"IMPORT":7.0},{"c":"United Kingdom","t":2001,"EXPORT":6.0,"IMPORT":6.8},{"c":"United Kingdom","t":2002,"EXPORT":5.8,"IMPORT":6.5},{"c":"United Kingdom","t":2003,"EXPORT":5.7,"IMPORT":6.7},{"c":"United Kingdom","t":2004,"EXPORT":5.8,"IMPORT":7.0},{"c":"United Kingdom","t":2005,"EXPORT":6.2,"IMPORT":7.2},{"c":"United Kingdom","t":2006,"EXPORT":6.8,"IMPORT":7.3},{"c":"United Kingdom","t":2007,"EXPORT":6.3,"IMPORT":7.0},{"c":"United Kingdom","t":2008,"EXPORT":6.8,"IMPORT":7.8},{"c":"United Kingdom","t":2009,"EXPORT":6.5,"IMPORT":7.0},{"c":"United Kingdom","t":2010,"EXPORT":7.0,"IMPORT":7.8},{"c":"United Kingdom","t":2011,"EXPORT":7.3,"IMPORT":8.0},{"c":"United Kingdom","t":2012,"EXPORT":7.0,"IMPORT":7.8},{"c":"United Kingdom","t":2013,"EXPORT":6.8,"IMPORT":7.6},{"c":"United Kingdom","t":2014,"EXPORT":6.8,"IMPORT":7.5},{"c":"United Kingdom","t":2015,"EXPORT":6.7,"IMPORT":7.3}
]},
"data": {"name": "d"},
"columns": 5,
"spacing": {"row": 14, "column": 16},
"concat": [
{"title":"Austria","transform":[{"filter":"datum.c==='Austria'"},{"fold":["EXPORT","IMPORT"]}],"width":113,"height":57,"mark":{"type":"line","strokeWidth":1.2,"clip":true},"encoding":{"x":{"field":"t","type":"quantitative","scale":{"domain":[1970,2016]},"axis":{"values":[1970,1975,1980,1985,1990,1995,2000,2005,2010,2015],"format":"d","labelExpr":"substring(datum.label,2)","title":null}},"y":{"field":"value","type":"quantitative","scale":{"domain":[8,14]},"axis":{"values":[8,9,10,11,12,13,14],"title":null}},"color":{"field":"key","type":"nominal","scale":{"domain":["EXPORT","IMPORT"],"range":["#4472C4","#ED7D31"]},"title":null}}},
{"title":"Belgium","transform":[{"filter":"datum.c==='Belgium'"},{"fold":["EXPORT","IMPORT"]}],"width":113,"height":57,"mark":{"type":"line","strokeWidth":1.2,"clip":true},"encoding":{"x":{"field":"t","type":"quantitative","scale":{"domain":[1970,2016]},"axis":{"values":[1970,1975,1980,1985,1990,1995,2000,2005,2010,2015],"format":"d","labelExpr":"substring(datum.label,2)","title":null}},"y":{"field":"value","type":"quantitative","scale":{"domain":[12,22]},"axis":{"values":[12,14,16,18,20,22],"title":null}},"color":{"field":"key","type":"nominal","title":null}}},
{"title":"Czech Republic","transform":[{"filter":"datum.c==='Czech Republic'"},{"fold":["EXPORT","IMPORT"]}],"width":113,"height":57,"mark":{"type":"line","strokeWidth":1.2,"clip":true},"encoding":{"x":{"field":"t","type":"quantitative","scale":{"domain":[1970,2016]},"axis":{"values":[1970,1975,1980,1985,1990,1995,2000,2005,2010,2015],"format":"d","labelExpr":"substring(datum.label,2)","title":null}},"y":{"field":"value","type":"quantitative","scale":{"domain":[8,24]},"axis":{"values":[8,12,16,20,24],"title":null}},"color":{"field":"key","type":"nominal","title":null}}},
{"title":"Denmark","transform":[{"filter":"datum.c==='Denmark'"},{"fold":["EXPORT","IMPORT"]}],"width":113,"height":57,"mark":{"type":"line","strokeWidth":1.2,"clip":true},"encoding":{"x":{"field":"t","type":"quantitative","scale":{"domain":[1970,2016]},"axis":{"values":[1970,1975,1980,1985,1990,1995,2000,2005,2010,2015],"format":"d","labelExpr":"substring(datum.label,2)","title":null}},"y":{"field":"value","type":"quantitative","scale":{"domain":[6,14]},"axis":{"values":[6,8,10,12,14],"title":null}},"color":{"field":"key","type":"nominal","title":null}}},
{"title":"Estonia","transform":[{"filter":"datum.c==='Estonia'"},{"fold":["EXPORT","IMPORT"]}],"width":113,"height":57,"mark":{"type":"line","strokeWidth":1.2,"clip":true},"encoding":{"x":{"field":"t","type":"quantitative","scale":{"domain":[1970,2016]},"axis":{"values":[1970,1975,1980,1985,1990,1995,2000,2005,2010,2015],"format":"d","labelExpr":"substring(datum.label,2)","title":null}},"y":{"field":"value","type":"quantitative","scale":{"domain":[8,24]},"axis":{"values":[8,12,16,20,24],"title":null}},"color":{"field":"key","type":"nominal","title":null}}},
{"title":"Finland","transform":[{"filter":"datum.c==='Finland'"},{"fold":["EXPORT","IMPORT"]}],"width":113,"height":57,"mark":{"type":"line","strokeWidth":1.2,"clip":true},"encoding":{"x":{"field":"t","type":"quantitative","scale":{"domain":[1970,2016]},"axis":{"values":[1970,1975,1980,1985,1990,1995,2000,2005,2010,2015],"format":"d","labelExpr":"substring(datum.label,2)","title":null}},"y":{"field":"value","type":"quantitative","scale":{"domain":[4,12]},"axis":{"values":[4,6,8,10,12],"title":null}},"color":{"field":"key","type":"nominal","title":null}}},
{"title":"France","transform":[{"filter":"datum.c==='France'"},{"fold":["EXPORT","IMPORT"]}],"width":113,"height":57,"mark":{"type":"line","strokeWidth":1.2,"clip":true},"encoding":{"x":{"field":"t","type":"quantitative","scale":{"domain":[1970,2016]},"axis":{"values":[1970,1975,1980,1985,1990,1995,2000,2005,2010,2015],"format":"d","labelExpr":"substring(datum.label,2)","title":null}},"y":{"field":"value","type":"quantitative","scale":{"domain":[3,8]},"axis":{"values":[3,4,5,6,7,8],"title":null}},"color":{"field":"key","type":"nominal","title":null}}},
{"title":"Germany","transform":[{"filter":"datum.c==='Germany'"},{"fold":["EXPORT","IMPORT"]}],"width":113,"height":57,"mark":{"type":"line","strokeWidth":1.2,"clip":true},"encoding":{"x":{"field":"t","type":"quantitative","scale":{"domain":[1970,2016]},"axis":{"values":[1970,1975,1980,1985,1990,1995,2000,2005,2010,2015],"format":"d","labelExpr":"substring(datum.label,2)","title":null}},"y":{"field":"value","type":"quantitative","scale":{"domain":[4,12]},"axis":{"values":[4,6,8,10,12],"title":null}},"color":{"field":"key","type":"nominal","title":null}}},
{"title":"Greece","transform":[{"filter":"datum.c==='Greece'"},{"fold":["EXPORT","IMPORT"]}],"width":113,"height":57,"mark":{"type":"line","strokeWidth":1.2,"clip":true},"encoding":{"x":{"field":"t","type":"quantitative","scale":{"domain":[1970,2016]},"axis":{"values":[1970,1975,1980,1985,1990,1995,2000,2005,2010,2015],"format":"d","labelExpr":"substring(datum.label,2)","title":null}},"y":{"field":"value","type":"quantitative","scale":{"domain":[2,10]},"axis":{"values":[2,4,6,8,10],"title":null}},"color":{"field":"key","type":"nominal","title":null}}},
{"title":"Hungary","transform":[{"filter":"datum.c==='Hungary'"},{"fold":["EXPORT","IMPORT"]}],"width":113,"height":57,"mark":{"type":"line","strokeWidth":1.2,"clip":true},"encoding":{"x":{"field":"t","type":"quantitative","scale":{"domain":[1970,2016]},"axis":{"values":[1970,1975,1980,1985,1990,1995,2000,2005,2010,2015],"format":"d","labelExpr":"substring(datum.label,2)","title":null}},"y":{"field":"value","type":"quantitative","scale":{"domain":[8,24]},"axis":{"values":[8,12,16,20,24],"title":null}},"color":{"field":"key","type":"nominal","title":null}}},
{"title":"Ireland","transform":[{"filter":"datum.c==='Ireland'"},{"fold":["EXPORT","IMPORT"]}],"width":113,"height":57,"mark":{"type":"line","strokeWidth":1.2,"clip":true},"encoding":{"x":{"field":"t","type":"quantitative","scale":{"domain":[1970,2016]},"axis":{"values":[1970,1975,1980,1985,1990,1995,2000,2005,2010,2015],"format":"d","labelExpr":"substring(datum.label,2)","title":null}},"y":{"field":"value","type":"quantitative","scale":{"domain":[15,40]},"axis":{"values":[15,20,25,30,35,40],"title":null}},"color":{"field":"key","type":"nominal","title":null}}},
{"title":"Italy","transform":[{"filter":"datum.c==='Italy'"},{"fold":["EXPORT","IMPORT"]}],"width":113,"height":57,"mark":{"type":"line","strokeWidth":1.2,"clip":true},"encoding":{"x":{"field":"t","type":"quantitative","scale":{"domain":[1970,2016]},"axis":{"values":[1970,1975,1980,1985,1990,1995,2000,2005,2010,2015],"format":"d","labelExpr":"substring(datum.label,2)","title":null}},"y":{"field":"value","type":"quantitative","scale":{"domain":[4,8]},"axis":{"values":[4,5,6,7,8],"title":null}},"color":{"field":"key","type":"nominal","title":null}}},
{"title":"Latvia","transform":[{"filter":"datum.c==='Latvia'"},{"fold":["EXPORT","IMPORT"]}],"width":113,"height":57,"mark":{"type":"line","strokeWidth":1.2,"clip":true},"encoding":{"x":{"field":"t","type":"quantitative","scale":{"domain":[1970,2016]},"axis":{"values":[1970,1975,1980,1985,1990,1995,2000,2005,2010,2015],"format":"d","labelExpr":"substring(datum.label,2)","title":null}},"y":{"field":"value","type":"quantitative","scale":{"domain":[8,18]},"axis":{"values":[8,10,12,14,16,18],"title":null}},"color":{"field":"key","type":"nominal","title":null}}},
{"title":"Luxembourg","transform":[{"filter":"datum.c==='Luxembourg'"},{"fold":["EXPORT","IMPORT"]}],"width":113,"height":57,"mark":{"type":"line","strokeWidth":1.2,"clip":true},"encoding":{"x":{"field":"t","type":"quantitative","scale":{"domain":[1970,2016]},"axis":{"values":[1970,1975,1980,1985,1990,1995,2000,2005,2010,2015],"format":"d","labelExpr":"substring(datum.label,2)","title":null}},"y":{"field":"value","type":"quantitative","scale":{"domain":[28,56]},"axis":{"values":[28,32,36,40,44,48,52,56],"title":null}},"color":{"field":"key","type":"nominal","title":null}}},
{"title":"Netherlands","transform":[{"filter":"datum.c==='Netherlands'"},{"fold":["EXPORT","IMPORT"]}],"width":113,"height":57,"mark":{"type":"line","strokeWidth":1.2,"clip":true},"encoding":{"x":{"field":"t","type":"quantitative","scale":{"domain":[1970,2016]},"axis":{"values":[1970,1975,1980,1985,1990,1995,2000,2005,2010,2015],"format":"d","labelExpr":"substring(datum.label,2)","title":null}},"y":{"field":"value","type":"quantitative","scale":{"domain":[12,22]},"axis":{"values":[12,14,16,18,20,22],"title":null}},"color":{"field":"key","type":"nominal","title":null}}},
{"title":"Poland","transform":[{"filter":"datum.c==='Poland'"},{"fold":["EXPORT","IMPORT"]}],"width":113,"height":57,"mark":{"type":"line","strokeWidth":1.2,"clip":true},"encoding":{"x":{"field":"t","type":"quantitative","scale":{"domain":[1970,2016]},"axis":{"values":[1970,1975,1980,1985,1990,1995,2000,2005,2010,2015],"format":"d","labelExpr":"substring(datum.label,2)","title":null}},"y":{"field":"value","type":"quantitative","scale":{"domain":[6,14]},"axis":{"values":[6,8,10,12,14],"title":null}},"color":{"field":"key","type":"nominal","title":null}}},
{"title":"Portugal","transform":[{"filter":"datum.c==='Portugal'"},{"fold":["EXPORT","IMPORT"]}],"width":113,"height":57,"mark":{"type":"line","strokeWidth":1.2,"clip":true},"encoding":{"x":{"field":"t","type":"quantitative","scale":{"domain":[1970,2016]},"axis":{"values":[1970,1975,1980,1985,1990,1995,2000,2005,2010,2015],"format":"d","labelExpr":"substring(datum.label,2)","title":null}},"y":{"field":"value","type":"quantitative","scale":{"domain":[6,11]},"axis":{"values":[6,7,8,9,10,11],"title":null}},"color":{"field":"key","type":"nominal","title":null}}},
{"title":"Slovak Republic","transform":[{"filter":"datum.c==='Slovak Republic'"},{"fold":["EXPORT","IMPORT"]}],"width":113,"height":57,"mark":{"type":"line","strokeWidth":1.2,"clip":true},"encoding":{"x":{"field":"t","type":"quantitative","scale":{"domain":[1970,2016]},"axis":{"values":[1970,1975,1980,1985,1990,1995,2000,2005,2010,2015],"format":"d","labelExpr":"substring(datum.label,2)","title":null}},"y":{"field":"value","type":"quantitative","scale":{"domain":[10,25]},"axis":{"values":[10,15,20,25],"title":null}},"color":{"field":"key","type":"nominal","title":null}}},
{"title":"Slovenia","transform":[{"filter":"datum.c==='Slovenia'"},{"fold":["EXPORT","IMPORT"]}],"width":113,"height":57,"mark":{"type":"line","strokeWidth":1.2,"clip":true},"encoding":{"x":{"field":"t","type":"quantitative","scale":{"domain":[1970,2016]},"axis":{"values":[1970,1975,1980,1985,1990,1995,2000,2005,2010,2015],"format":"d","labelExpr":"substring(datum.label,2)","title":null}},"y":{"field":"value","type":"quantitative","scale":{"domain":[10,20]},"axis":{"values":[10,12,14,16,18,20],"title":null}},"color":{"field":"key","type":"nominal","title":null}}},
{"title":"Spain","transform":[{"filter":"datum.c==='Spain'"},{"fold":["EXPORT","IMPORT"]}],"width":113,"height":57,"mark":{"type":"line","strokeWidth":1.2,"clip":true},"encoding":{"x":{"field":"t","type":"quantitative","scale":{"domain":[1970,2016]},"axis":{"values":[1970,1975,1980,1985,1990,1995,2000,2005,2010,2015],"format":"d","labelExpr":"substring(datum.label,2)","title":null}},"y":{"field":"value","type":"quantitative","scale":{"domain":[5,9]},"axis":{"values":[5,6,7,8,9],"title":null}},"color":{"field":"key","type":"nominal","title":null}}},
{"title":"Sweden","transform":[{"filter":"datum.c==='Sweden'"},{"fold":["EXPORT","IMPORT"]}],"width":113,"height":57,"mark":{"type":"line","strokeWidth":1.2,"clip":true},"encoding":{"x":{"field":"t","type":"quantitative","scale":{"domain":[1970,2016]},"axis":{"values":[1970,1975,1980,1985,1990,1995,2000,2005,2010,2015],"format":"d","labelExpr":"substring(datum.label,2)","title":null}},"y":{"field":"value","type":"quantitative","scale":{"domain":[6,14]},"axis":{"values":[6,8,10,12,14],"title":null}},"color":{"field":"key","type":"nominal","title":null}}},
{"title":"United Kingdom","transform":[{"filter":"datum.c==='United Kingdom'"},{"fold":["EXPORT","IMPORT"]}],"width":113,"height":57,"mark":{"type":"line","strokeWidth":1.2,"clip":true},"encoding":{"x":{"field":"t","type":"quantitative","scale":{"domain":[1970,2016]},"axis":{"values":[1970,1975,1980,1985,1990,1995,2000,2005,2010,2015],"format":"d","labelExpr":"substring(datum.label,2)","title":null}},"y":{"field":"value","type":"quantitative","scale":{"domain":[4,9]},"axis":{"values":[4,5,6,7,8,9],"title":null}},"color":{"field":"key","type":"nominal","title":null}}}
],
"config": {
"font": "Open Sans",
"view": {"stroke": null},
"title": {"fontSize": 6.5, "fontWeight": "normal", "color": "#595959", "offset": 3},
"axis": {"domain": false, "ticks": false, "labelFontSize": 5, "labelColor": "#595959", "labelPadding": 2, "gridColor": "#e3e3e3", "gridWidth": 0.7},
"legend": {"orient": "none", "legendX": 306, "legendY": 431, "direction": "horizontal", "symbolType": "stroke", "symbolStrokeWidth": 1.5, "symbolSize": 90, "labelFontSize": 4.5, "labelColor": "#595959", "labelOffset": 2, "strokeColor": "#d9d9d9", "padding": 2, "columnPadding": 5}
}
}
